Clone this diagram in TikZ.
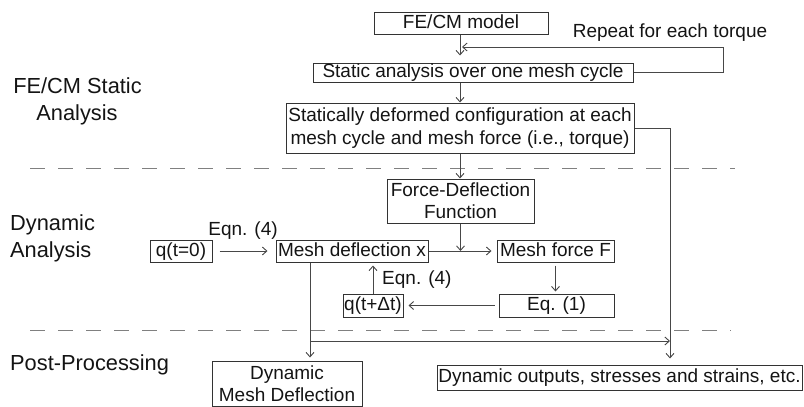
\documentclass[tikz,border=0pt]{standalone}
\usepackage{fontspec}
\setmainfont{Liberation Sans}
\usetikzlibrary{arrows.meta,calc}
\begin{document}
\begin{tikzpicture}[x=1pt,y=-1pt,
  txt/.style={font=\fontsize{19}{22.3}\selectfont, text=black!92},
  lbl/.style={font=\fontsize{21.8}{26.5}\selectfont, text=black!92, inner sep=0},
  box/.style={txt, draw=black!80, line width=1pt, inner sep=0, align=center},
  one/.style={text height=13.9pt, text depth=3.9pt},
  arr/.style={draw=black!72, line width=0.9pt, -{Straight Barb[length=4.5pt,width=8pt]}},
  dashline/.style={draw=black!50, line width=1pt, dash pattern=on 15pt off 13pt}]
\useasboundingbox (0,0) rectangle (804,407);

% dashed separators
\draw[dashline] (30,168) -- (735,168);
\draw[dashline] (30,330) -- (731,330);

% left labels
\node[lbl, anchor=base] (l1a) at (77.5,93) {FE/CM Static};
\node[lbl, anchor=base] (l1b) at (77,120) {Analysis};
\node[lbl, anchor=base west] (l2a) at (10,230) {Dynamic};
\node[lbl, anchor=base west] (l2b) at (10,257) {Analysis};
\node[lbl, anchor=base west] (l3) at (10,370) {Post-Processing};

% boxes
\node[box, one, minimum width=174pt, minimum height=22pt] (fe) at (461,23) {FE/CM model};
\node[box, one, minimum width=320pt, minimum height=19pt] (sa) at (473,72.5) {Static analysis over one mesh cycle};
\node[box, minimum width=348pt, minimum height=50pt] (sd) at (460,128) {Statically deformed configuration at each\\mesh cycle and mesh force (i.e., torque)};
\node[txt, anchor=base, inner sep=0] (rep) at (670,37) {Repeat for each torque};
\node[box, minimum width=147pt, minimum height=44pt] (fd) at (460.5,201) {Force-Deflection\\Function};
\node[box, one, minimum width=62pt, minimum height=22pt] (q0) at (181,251) {q(t=0)};
\node[box, one, minimum width=152pt, minimum height=22pt] (md) at (352,251) {Mesh deflection x};
\node[box, one, minimum width=117pt, minimum height=22pt] (mf) at (555.5,251) {Mesh force F};
\node[box, one, minimum width=115pt, minimum height=23pt] (eq) at (556.5,305.5) {Eq. (1)};
\node[box, one, minimum width=60pt, minimum height=23pt] (qd) at (373,305.5) {q(t+Δt)};
\node[box, minimum width=150pt, minimum height=45pt] (dm) at (287,383.5) {Dynamic\\Mesh Deflection};
\node[box, one, minimum width=365pt, minimum height=25pt] (do) at (619.5,377.5) {Dynamic outputs, stresses and strains, etc.};

% labels on connectors
\node[txt, anchor=base, inner sep=0] (e4a) at (243,235) {Eqn. (4)};
\node[txt, anchor=base west, inner sep=0] (e4b) at (382,284) {Eqn. (4)};

% helper coordinates
\coordinate (cx) at (460,0);
\coordinate (rx) at (670,0);
\coordinate (lx) at (310,0);
\coordinate (lp) at (723,47);
\coordinate (lpe) at (462,47);
\coordinate (hy) at (0,341);

% connectors
\draw[arr, shorten >=7pt] (cx |- fe.south) -- (cx |- sa.north);
\draw[arr] (sa.east) -| (lp) -- (lpe);
\draw[arr] (cx |- sa.south) -- (cx |- sd.north);
\draw[arr, shorten >=6pt] (sd.east) -| (rx |- do.north);
\draw[arr] (cx |- sd.south) -- (cx |- fd.north);
\draw[arr, shorten <=7pt, shorten >=8pt] (q0.east) -- (md.west);
\draw[arr, shorten >=5pt] (md.east) -- (mf.west);
\draw[arr] (fd.south) -- (fd.south |- md.east);
\draw[arr, shorten <=3pt, shorten >=2pt] (mf.south) -- (mf.south |- eq.north);
\draw[arr, shorten <=4pt, shorten >=5pt] (eq.west) -- (qd.east);
\draw[arr, shorten >=3pt] (qd.north) -- (qd.north |- md.south);
\draw[arr, shorten >=3pt] (lx |- md.south) -- (lx |- dm.north);
\draw[arr] (lx |- hy) -- (rx |- hy);
\end{tikzpicture}
\end{document}
